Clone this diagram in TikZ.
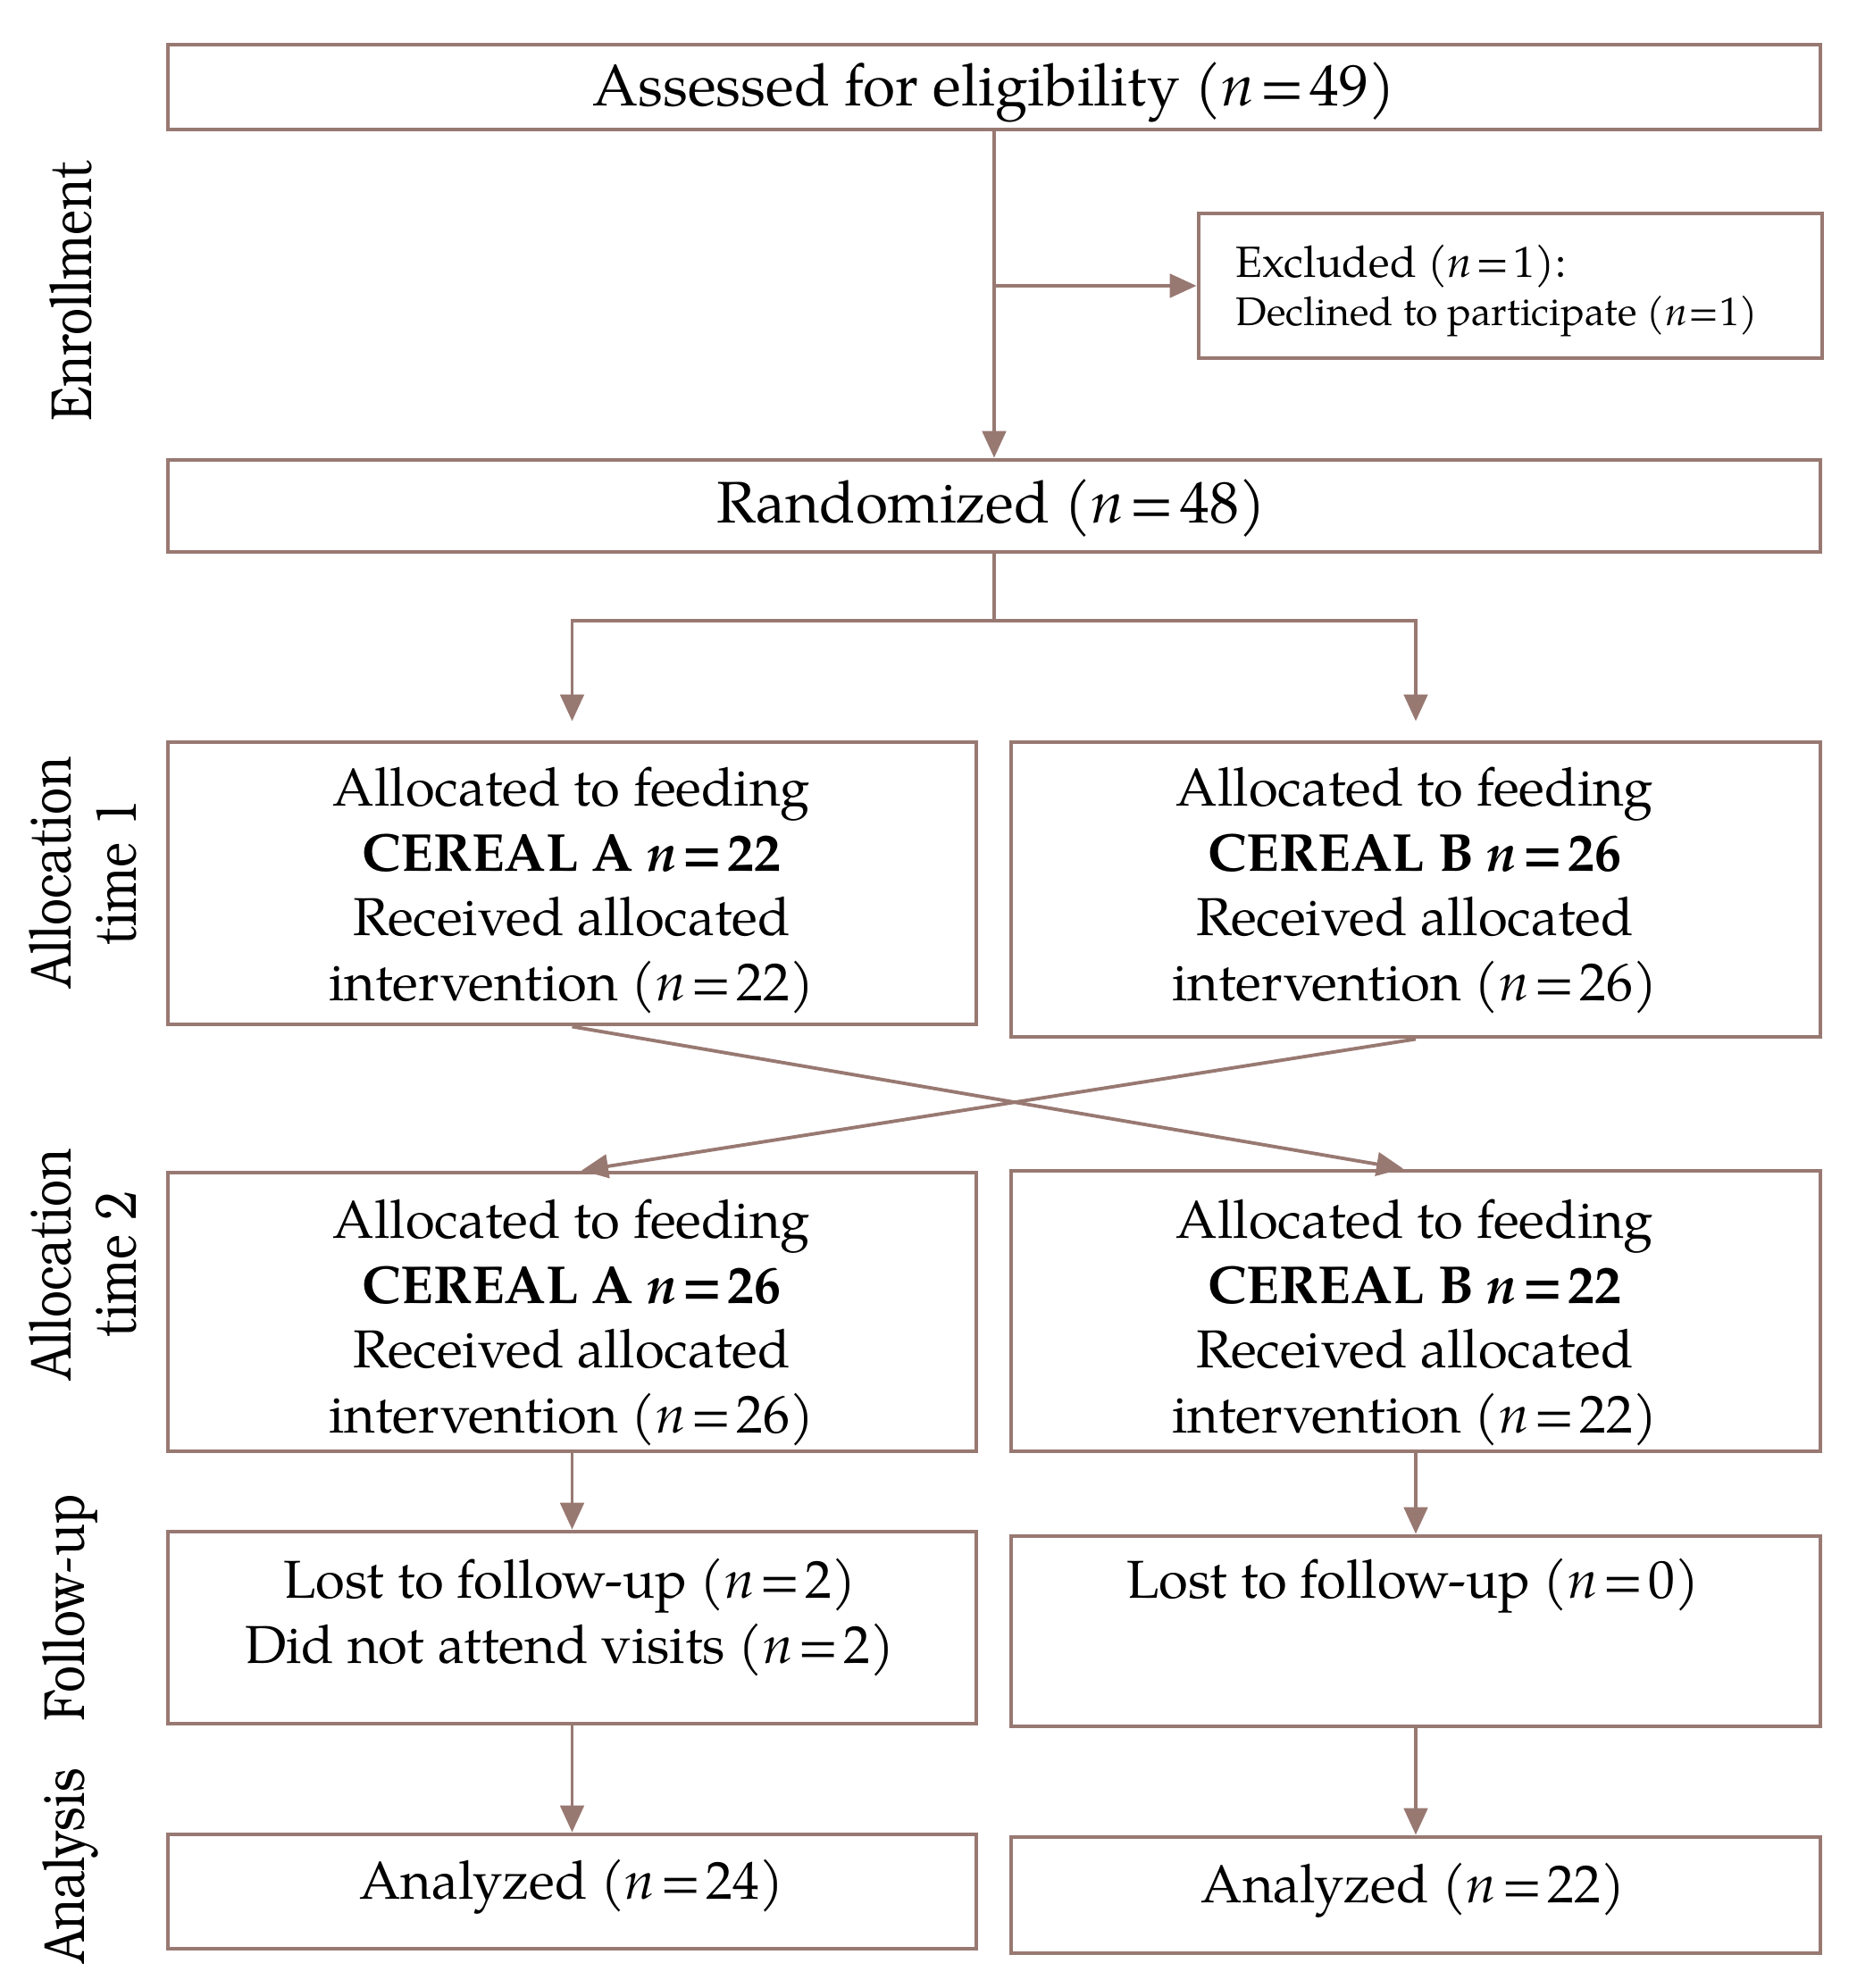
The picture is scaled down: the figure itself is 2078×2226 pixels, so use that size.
\documentclass[tikz,border=0pt]{standalone}
\usepackage{fontspec}
\setmainfont{texgyrepagella}[Extension=.otf, UprightFont=*-regular, BoldFont=*-bold, ItalicFont=*-italic, BoldItalicFont=*-bolditalic]
\newfontfamily\sidefont{texgyrebonum}[Extension=.otf, UprightFont=*-regular]
\usetikzlibrary{arrows.meta}
\definecolor{lc}{RGB}{152,121,114}
\tikzset{
  box/.style={draw=lc, line width=1.4pt, inner sep=0pt},
  conn/.style={draw=lc, line width=1.1pt},
  arr/.style={conn, -{Triangle[length=8.5pt,width=7.5pt]}},
  big/.style={font=\fontsize{18.7}{22}\selectfont, inner sep=0pt},
  mid/.style={font=\fontsize{17}{20.7}\selectfont, align=center, inner sep=0pt},
  side/.style={font=\sidefont\fontsize{18.5}{21}\selectfont, align=center, inner sep=0pt, rotate=90},
}
\newcommand{\sq}[1]{\scalebox{0.82}[1]{#1}}
\newcommand{\eq}{\hspace{0.1em}=\hspace{0.1em}}
\newcommand{\eqt}{\hspace{0.03em}=\hspace{0.03em}}
\begin{document}
\begin{tikzpicture}[x=0.1mm,y=-0.1mm]
\useasboundingbox[fill=white] (0,0) rectangle (2078,2226);
% boxes
\node[box, minimum width=185mm, minimum height=9.5mm] (assess) at (1113,97.5) {};
\node[box, minimum width=69.8mm, minimum height=16.2mm] (excl) at (1691,320) {};
\node[box, minimum width=185mm, minimum height=10.3mm] (rand) at (1113,566.5) {};
\node[box, minimum width=90.5mm, minimum height=31.6mm] (a1) at (640.5,989) {};
\node[box, minimum width=90.6mm, minimum height=33.0mm] (b1) at (1585,996) {};
\node[box, minimum width=90.5mm, minimum height=31.2mm] (a2) at (640.5,1469) {};
\node[box, minimum width=90.6mm, minimum height=31.4mm] (b2) at (1585,1468) {};
\node[box, minimum width=90.5mm, minimum height=21.5mm] (a3) at (640.5,1822.5) {};
\node[box, minimum width=90.6mm, minimum height=21.3mm] (b3) at (1585,1826.5) {};
\node[box, minimum width=90.5mm, minimum height=12.8mm] (a4) at (640.5,2118) {};
\node[box, minimum width=90.6mm, minimum height=13.0mm] (b4) at (1585,2122) {};
% texts
\node[big] (t0) at (1113,103) {Assessed for eligibility (\textit{n}\eq49)};
\node[inner sep=0pt, anchor=base west, font=\fontsize{13.9}{15}\selectfont] (t1a) at (1383,310) {Excluded (\textit{n}\eq1):};
\node[inner sep=0pt, anchor=base west, font=\fontsize{12.7}{15}\selectfont] (t1b) at (1383,364) {Declined to participate (\textit{n}\eqt1)};
\node[big] (t2) at (1110,569) {Randomized (\textit{n}\eq48)};
\node[mid] (t3) at (640,997) {Allocated to feeding\\\textbf{CEREAL A \textit{n}\eq22}\\Received allocated\\intervention (\textit{n}\eq22)};
\node[mid] (t4) at (1584,997) {Allocated to feeding\\\textbf{CEREAL B \textit{n}\eq26}\\Received allocated\\intervention (\textit{n}\eq26)};
\node[mid] (t5) at (640,1481) {Allocated to feeding\\\textbf{CEREAL A \textit{n}\eq26}\\Received allocated\\intervention (\textit{n}\eq26)};
\node[mid] (t6) at (1584,1481) {Allocated to feeding\\\textbf{CEREAL B \textit{n}\eq22}\\Received allocated\\intervention (\textit{n}\eq22)};
\node[mid] (t7) at (638,1811) {Lost to follow-up (\textit{n}\eq2)\\Did not attend visits (\textit{n}\eq2)};
\node[mid] (t8) at (1582,1776) {Lost to follow-up (\textit{n}\eq0)};
\node[mid] (t9) at (640,2113) {Analyzed (\textit{n}\eq24)};
\node[mid] (t10) at (1582,2117) {Analyzed (\textit{n}\eq22)};
% side labels
\node[side] (s1) at (79,326) {\sq{Enrollment}};
\node[side] (s2) at (93,976) {\sq{Allocation}\\\sq{time 1}};
\node[side] (s3) at (93,1415) {\sq{Allocation}\\\sq{time 2}};
\node[side] (s4) at (79,1800) {\sq{Follow-up}};
\node[side] (s5) at (79,2089) {\sq{Analysis}};
% connectors
\coordinate (ex) at (1113,320);
\coordinate (br) at (1113,695);
\draw[arr] (assess.south) -- (rand.north);
\draw[arr] (ex) -- (excl.west);
\draw[conn] (rand.south) -- (br);
\draw[arr, shorten >=6pt] (br) -| (a1.north);
\draw[arr, shorten >=6pt] (br) -| (b1.north);
\draw[arr] (a1.south) -- ([xshift=-4pt]b2.north);
\draw[arr] (b1.south) -- ([xshift=3pt]a2.north);
\draw[arr] (a2.south) -- (a3.north);
\draw[arr] (b2.south) -- (b3.north);
\draw[arr] (a3.south) -- (a4.north);
\draw[arr] (b3.south) -- (b4.north);
\end{tikzpicture}
\end{document}
